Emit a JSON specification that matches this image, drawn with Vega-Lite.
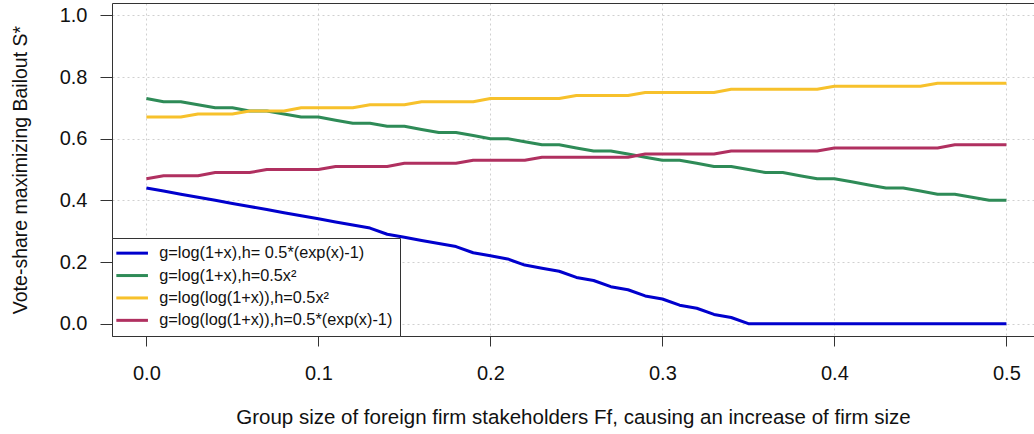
{
  "$schema": "https://vega.github.io/schema/vega-lite/v6.json",
  "width": 922,
  "height": 333,
  "autosize": {"type": "none"},
  "padding": {"left": 112, "top": 3, "right": 0, "bottom": 98},
  "background": "white",
  "config": {
    "font": "Liberation Sans",
    "view": {"stroke": null},
    "axis": {"titleFontWeight": "normal", "labelColor": "#111", "titleColor": "#111"}
  },
  "data": {"values": [
    {"x": 0.00, "A": 0.44, "B": 0.73, "C": 0.67, "D": 0.47},
    {"x": 0.01, "A": 0.43, "B": 0.72, "C": 0.67, "D": 0.48},
    {"x": 0.02, "A": 0.42, "B": 0.72, "C": 0.67, "D": 0.48},
    {"x": 0.03, "A": 0.41, "B": 0.71, "C": 0.68, "D": 0.48},
    {"x": 0.04, "A": 0.40, "B": 0.70, "C": 0.68, "D": 0.49},
    {"x": 0.05, "A": 0.39, "B": 0.70, "C": 0.68, "D": 0.49},
    {"x": 0.06, "A": 0.38, "B": 0.69, "C": 0.69, "D": 0.49},
    {"x": 0.07, "A": 0.37, "B": 0.69, "C": 0.69, "D": 0.50},
    {"x": 0.08, "A": 0.36, "B": 0.68, "C": 0.69, "D": 0.50},
    {"x": 0.09, "A": 0.35, "B": 0.67, "C": 0.70, "D": 0.50},
    {"x": 0.10, "A": 0.34, "B": 0.67, "C": 0.70, "D": 0.50},
    {"x": 0.11, "A": 0.33, "B": 0.66, "C": 0.70, "D": 0.51},
    {"x": 0.12, "A": 0.32, "B": 0.65, "C": 0.70, "D": 0.51},
    {"x": 0.13, "A": 0.31, "B": 0.65, "C": 0.71, "D": 0.51},
    {"x": 0.14, "A": 0.29, "B": 0.64, "C": 0.71, "D": 0.51},
    {"x": 0.15, "A": 0.28, "B": 0.64, "C": 0.71, "D": 0.52},
    {"x": 0.16, "A": 0.27, "B": 0.63, "C": 0.72, "D": 0.52},
    {"x": 0.17, "A": 0.26, "B": 0.62, "C": 0.72, "D": 0.52},
    {"x": 0.18, "A": 0.25, "B": 0.62, "C": 0.72, "D": 0.52},
    {"x": 0.19, "A": 0.23, "B": 0.61, "C": 0.72, "D": 0.53},
    {"x": 0.20, "A": 0.22, "B": 0.60, "C": 0.73, "D": 0.53},
    {"x": 0.21, "A": 0.21, "B": 0.60, "C": 0.73, "D": 0.53},
    {"x": 0.22, "A": 0.19, "B": 0.59, "C": 0.73, "D": 0.53},
    {"x": 0.23, "A": 0.18, "B": 0.58, "C": 0.73, "D": 0.54},
    {"x": 0.24, "A": 0.17, "B": 0.58, "C": 0.73, "D": 0.54},
    {"x": 0.25, "A": 0.15, "B": 0.57, "C": 0.74, "D": 0.54},
    {"x": 0.26, "A": 0.14, "B": 0.56, "C": 0.74, "D": 0.54},
    {"x": 0.27, "A": 0.12, "B": 0.56, "C": 0.74, "D": 0.54},
    {"x": 0.28, "A": 0.11, "B": 0.55, "C": 0.74, "D": 0.54},
    {"x": 0.29, "A": 0.09, "B": 0.54, "C": 0.75, "D": 0.55},
    {"x": 0.30, "A": 0.08, "B": 0.53, "C": 0.75, "D": 0.55},
    {"x": 0.31, "A": 0.06, "B": 0.53, "C": 0.75, "D": 0.55},
    {"x": 0.32, "A": 0.05, "B": 0.52, "C": 0.75, "D": 0.55},
    {"x": 0.33, "A": 0.03, "B": 0.51, "C": 0.75, "D": 0.55},
    {"x": 0.34, "A": 0.02, "B": 0.51, "C": 0.76, "D": 0.56},
    {"x": 0.35, "A": 0.00, "B": 0.50, "C": 0.76, "D": 0.56},
    {"x": 0.36, "A": 0.00, "B": 0.49, "C": 0.76, "D": 0.56},
    {"x": 0.37, "A": 0.00, "B": 0.49, "C": 0.76, "D": 0.56},
    {"x": 0.38, "A": 0.00, "B": 0.48, "C": 0.76, "D": 0.56},
    {"x": 0.39, "A": 0.00, "B": 0.47, "C": 0.76, "D": 0.56},
    {"x": 0.40, "A": 0.00, "B": 0.47, "C": 0.77, "D": 0.57},
    {"x": 0.41, "A": 0.00, "B": 0.46, "C": 0.77, "D": 0.57},
    {"x": 0.42, "A": 0.00, "B": 0.45, "C": 0.77, "D": 0.57},
    {"x": 0.43, "A": 0.00, "B": 0.44, "C": 0.77, "D": 0.57},
    {"x": 0.44, "A": 0.00, "B": 0.44, "C": 0.77, "D": 0.57},
    {"x": 0.45, "A": 0.00, "B": 0.43, "C": 0.77, "D": 0.57},
    {"x": 0.46, "A": 0.00, "B": 0.42, "C": 0.78, "D": 0.57},
    {"x": 0.47, "A": 0.00, "B": 0.42, "C": 0.78, "D": 0.58},
    {"x": 0.48, "A": 0.00, "B": 0.41, "C": 0.78, "D": 0.58},
    {"x": 0.49, "A": 0.00, "B": 0.40, "C": 0.78, "D": 0.58},
    {"x": 0.50, "A": 0.00, "B": 0.40, "C": 0.78, "D": 0.58}
  ]},
  "transform": [{"fold": ["A", "B", "C", "D"], "as": ["series", "value"]}],
  "layer": [
    {
      "mark": {"type": "line", "strokeWidth": 3, "strokeJoin": "round"},
      "encoding": {
        "x": {
          "field": "x", "type": "quantitative",
          "scale": {"domain": [-0.02, 0.51605], "nice": false, "zero": false},
          "axis": {
            "orient": "bottom",
            "values": [0, 0.1, 0.2, 0.3, 0.4, 0.5], "format": ".1f",
            "grid": true, "gridColor": "#d0d0d0", "gridDash": [2, 3], "gridWidth": 1,
            "domain": true, "domainColor": "#333", "domainWidth": 1,
            "tickColor": "#333", "tickSize": 10, "tickWidth": 1,
            "labelFontSize": 20, "labelPadding": 17, "labelFlush": false,
            "title": "Group size of foreign firm stakeholders Ff, causing an increase of firm size",
            "titleFontSize": 20.5, "titlePadding": 24, "titleAnchor": "middle"
          }
        },
        "y": {
          "field": "value", "type": "quantitative",
          "scale": {"domain": [-0.04, 1.04], "nice": false, "zero": false},
          "axis": {
            "values": [0, 0.2, 0.4, 0.6, 0.8, 1.0], "format": ".1f",
            "grid": true, "gridColor": "#d0d0d0", "gridDash": [2, 3], "gridWidth": 1,
            "domain": true, "domainColor": "#333", "domainWidth": 1,
            "tickColor": "#333", "tickSize": 12, "tickWidth": 1,
            "labelFontSize": 20, "labelPadding": 13, "labelFlush": false,
            "title": "Vote-share maximizing Bailout S*",
            "titleFontSize": 19.5, "titlePadding": 29
          }
        },
        "color": {
          "field": "series", "type": "nominal",
          "scale": {"domain": ["A", "B", "C", "D"], "range": ["#0000CD", "#2E8B57", "#F7C12B", "#B03060"]},
          "legend": {
            "title": null,
            "orient": "bottom-left", "offset": 0,
            "fillColor": "white", "strokeColor": "#333", "padding": 7,
            "symbolType": "M-2.5,0H2.5", "symbolSize": 160, "symbolStrokeWidth": 3, "symbolOffset": 5,
            "labelFontSize": 16.3, "labelColor": "#111", "labelOffset": 19, "labelLimit": 500,
            "rowPadding": 5.4,
            "labelExpr": "datum.label == 'A' ? 'g=log(1+x),h= 0.5*(exp(x)-1)' : datum.label == 'B' ? 'g=log(1+x),h=0.5x²' : datum.label == 'C' ? 'g=log(log(1+x)),h=0.5x²' : 'g=log(log(1+x)),h=0.5*(exp(x)-1)'"
          }
        }
      }
    },
    {
      "mark": {"type": "line", "opacity": 0},
      "encoding": {
        "x": {
          "field": "x", "type": "quantitative",
          "axis": {"orient": "top", "labels": false, "ticks": false, "grid": false, "domain": true, "domainColor": "#333", "title": null}
        }
      }
    }
  ],
  "resolve": {"axis": {"x": "independent"}}
}
